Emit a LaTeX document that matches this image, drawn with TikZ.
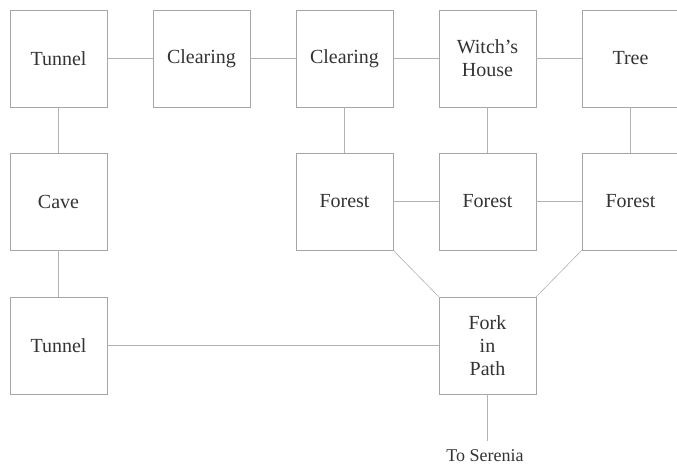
\documentclass[tikz,border=0pt]{standalone}
\usepackage{fontspec}
\setmainfont{Liberation Serif}
\usetikzlibrary{positioning}

\begin{document}
\begin{tikzpicture}[x=1pt, y=-1pt,
  room/.style={draw=gray!70, line width=0.6pt, minimum width=97pt,
    minimum height=97pt, inner sep=0pt, align=center,
    font=\fontsize{20}{23}\selectfont, text=black!80},
  path/.style={draw=gray!60, line width=0.6pt}]

% --- CANVAS ---
\useasboundingbox (0,0) rectangle (677,467);

% --- PARAMETERS ---
\def\ca{58.5}  % column centres
\def\cb{201.5}
\def\cc{344.5}
\def\cd{487.5}
\def\ce{630.5}
\def\ra{58.5}  % row centres
\def\rb{201.5}
\def\rc{345.5}

% --- ROOMS ---
\node[room] (tunnelA)   at (\ca,\ra) {Tunnel};
\node[room] (clearingA) at (\cb,\ra) {Clearing};
\node[room] (clearingB) at (\cc,\ra) {Clearing};
\node[room] (witch)     at (\cd,\ra) {Witch's\\House};
\node[room] (tree)      at (\ce,\ra) {Tree};
\node[room] (cave)      at (\ca,\rb) {Cave};
\node[room] (forestA)   at (\cc,\rb) {Forest};
\node[room] (forestB)   at (\cd,\rb) {Forest};
\node[room] (forestC)   at (\ce,\rb) {Forest};
\node[room] (tunnelB)   at (\ca,\rc) {Tunnel};
\node[room] (fork)      at (\cd,\rc) {Fork\\in\\Path};
\node[font=\fontsize{18}{20}\selectfont, text=black!80, inner sep=1pt]
  (serenia) at (485,456) {To Serenia};

% --- PATHS ---
\draw[path] (tunnelA) -- (clearingA);
\draw[path] (clearingA) -- (clearingB);
\draw[path] (clearingB) -- (witch);
\draw[path] (witch) -- (tree);
\draw[path] (tunnelA) -- (cave);
\draw[path] (cave) -- (tunnelB);
\draw[path] (tunnelB) -- (fork);
\draw[path] (clearingB) -- (forestA);
\draw[path] (witch) -- (forestB);
\draw[path] (tree) -- (forestC);
\draw[path] (forestA) -- (forestB);
\draw[path] (forestB) -- (forestC);
\draw[path] (forestA.south east) -- (fork.north west);
\draw[path] (forestC.south west) -- (fork.north east);
\draw[path] (fork.south) -- ([yshift=8pt]serenia.north -| fork.south);

\end{tikzpicture}
\end{document}
